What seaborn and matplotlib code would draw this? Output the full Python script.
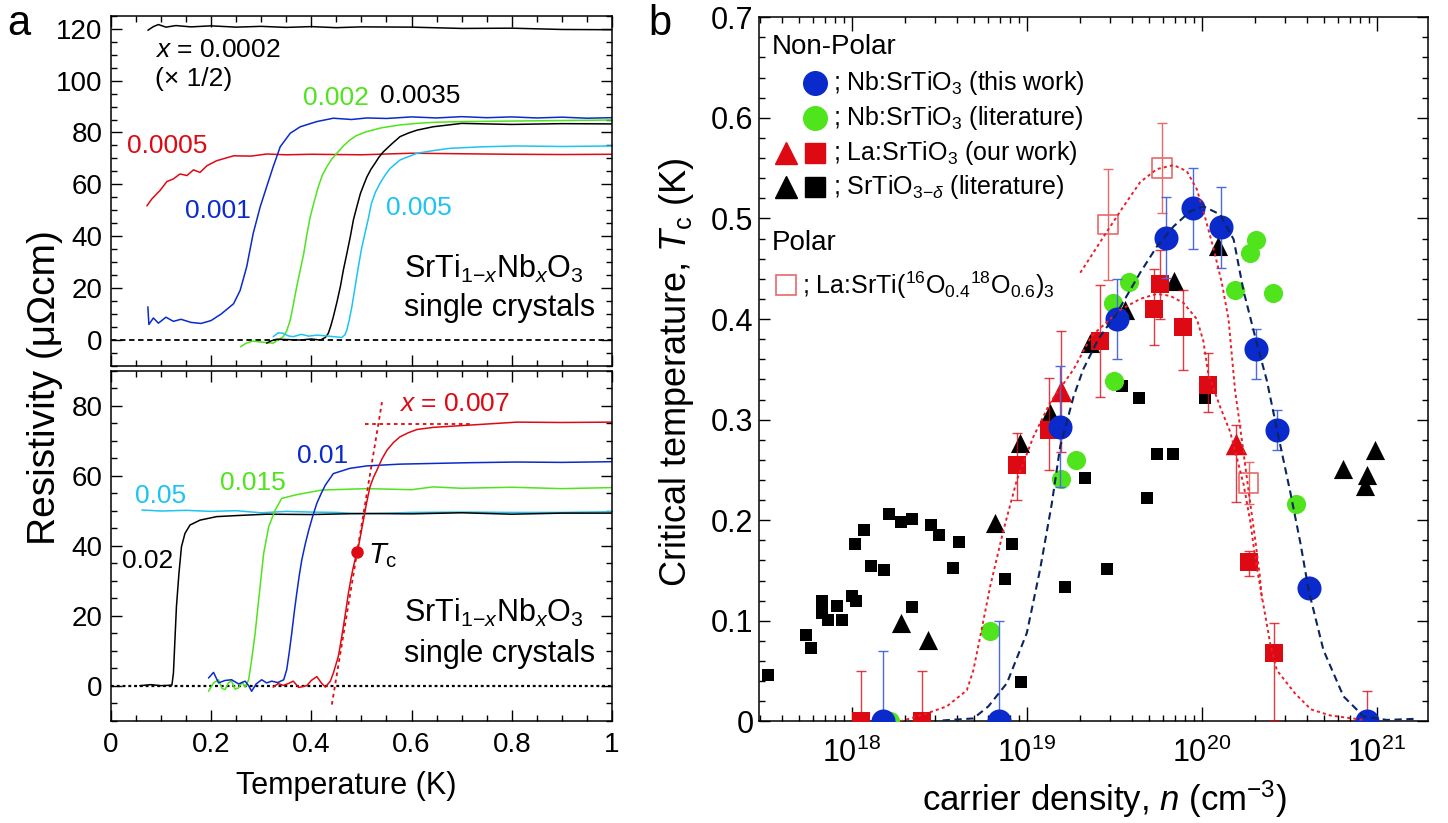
import numpy as np
import matplotlib
matplotlib.use("Agg")
import matplotlib.pyplot as plt
import seaborn as sns
from matplotlib.ticker import MultipleLocator, FuncFormatter, LogLocator, NullFormatter

# ---------------- panel a : resistivity curves ----------------
T_0002 = [0.074, 0.085, 0.095, 0.11, 0.13, 0.16, 0.2, 0.25, 0.3, 0.35, 0.4, 0.45, 0.5, 0.6, 0.7, 0.8, 0.9, 1.0]
R_0002 = [119.4, 120.8, 121.6, 120.6, 121.2, 120.7, 121.1, 120.6, 120.9, 120.5, 120.8, 120.4, 120.7, 120.6, 120.1, 120.2, 119.7, 119.6]

T_0005 = [0.072, 0.082, 0.098, 0.112, 0.125, 0.138, 0.152, 0.165, 0.178, 0.192, 0.211, 0.245, 0.28, 0.311, 0.35, 0.4, 0.5, 0.6, 0.7, 0.8, 0.9, 1.0]
R_0005 = [51.7, 54.4, 57.6, 61.1, 62.1, 64.0, 63.4, 65.6, 64.6, 67.2, 69.1, 71.0, 70.9, 71.7, 71.4, 71.6, 71.4, 72.0, 71.8, 71.6, 71.5, 71.6]

T_001 = [0.074, 0.076, 0.085, 0.095, 0.11, 0.125, 0.14, 0.16, 0.18, 0.2, 0.22, 0.245, 0.258, 0.271, 0.284, 0.298,
         0.311, 0.324, 0.338, 0.358, 0.378, 0.411, 0.444, 0.48, 0.511, 0.55, 0.6, 0.65, 0.7, 0.75, 0.8, 0.85, 0.9, 0.95, 1.0]
R_001 = [12.8, 6.0, 8.5, 6.5, 8.8, 7.2, 8.0, 6.8, 6.4, 7.5, 10.0, 14.0, 19.1, 28.1, 41.0, 51.3,
         59.1, 66.8, 74.5, 79.7, 82.2, 84.2, 85.5, 85.0, 85.6, 85.4, 86.0, 85.6, 86.1, 85.7, 86.0, 85.6, 85.9, 85.5, 85.7]

T_002 = [0.259, 0.27, 0.284, 0.3, 0.324, 0.335, 0.344, 0.351, 0.358, 0.364, 0.371, 0.378, 0.385, 0.391, 0.398, 0.406,
         0.414, 0.422, 0.431, 0.441, 0.451, 0.464, 0.477, 0.49, 0.51, 0.54, 0.577, 0.61, 0.643, 0.7, 0.8, 0.9, 1.0]
R_002 = [-2.6, -1.2, -0.4, -0.8, -1.2, 0.2, 1.3, 3.5, 7.7, 13.5, 20.6, 27.0, 33.4, 40.5, 47.6, 53.5,
         59.1, 63.5, 66.8, 69.8, 72.0, 74.8, 77.1, 78.8, 80.3, 81.8, 82.9, 83.5, 83.9, 84.2, 84.4, 84.6, 84.8]

T_0035 = [0.311, 0.32, 0.331, 0.35, 0.378, 0.4, 0.418, 0.428, 0.434, 0.439, 0.444, 0.451, 0.458, 0.464, 0.471, 0.478, 0.484,
          0.491, 0.498, 0.505, 0.511, 0.519, 0.527, 0.535, 0.544, 0.56, 0.577, 0.594, 0.611, 0.643, 0.7, 0.8, 0.9, 1.0]
R_0035 = [-1.2, -0.3, 0.3, 0.2, 0.0, 0.4, 0.0, 1.0, 2.6, 5.5, 9.0, 14.5, 20.6, 27.0, 33.4, 40.0, 46.3,
          51.5, 56.5, 60.0, 62.9, 65.8, 68.1, 70.5, 72.6, 75.5, 78.4, 79.8, 80.9, 82.2, 83.5, 83.1, 83.4, 83.3]

T_005 = [0.324, 0.334, 0.344, 0.354, 0.364, 0.38, 0.395, 0.411, 0.43, 0.444, 0.461, 0.467, 0.471, 0.476, 0.481, 0.487, 0.494,
         0.5, 0.507, 0.514, 0.52, 0.528, 0.537, 0.547, 0.557, 0.577, 0.611, 0.643, 0.677, 0.744, 0.81, 0.9, 1.0]
R_005 = [1.3, 2.8, 2.6, 1.6, 1.3, 2.2, 1.5, 1.9, 1.6, 1.3, 1.0, 2.0, 3.9, 8.0, 12.9, 20.0, 28.3,
         35.0, 41.1, 47.0, 52.7, 57.0, 60.4, 63.5, 66.1, 69.4, 72.0, 73.0, 73.9, 74.5, 74.8, 74.6, 74.8]

T_02 = [0.058, 0.08, 0.1, 0.115, 0.122, 0.125, 0.128, 0.131, 0.136, 0.141, 0.148, 0.158, 0.178, 0.211, 0.25, 0.311,
        0.4, 0.5, 0.6, 0.7, 0.8, 0.9, 1.0]
R_02 = [0.0, 0.3, 0.0, 0.1, 0.2, 3.6, 13.1, 22.6, 32.1, 39.7, 43.5, 45.9, 47.3, 48.3, 48.6, 49.0,
        48.9, 49.2, 49.1, 49.4, 49.0, 49.3, 49.3]

T_05 = [0.062, 0.1, 0.15, 0.2, 0.25, 0.3, 0.35, 0.4, 0.45, 0.5, 0.55, 0.6, 0.7, 0.8, 0.9, 1.0]
R_05 = [50.2, 49.9, 50.1, 49.8, 50.0, 49.4, 49.8, 49.6, 49.5, 49.1, 49.3, 49.5, 49.6, 49.5, 49.5, 49.7]

T_015 = [0.195, 0.205, 0.215, 0.222, 0.228, 0.235, 0.241, 0.248, 0.255, 0.262, 0.268, 0.275, 0.281, 0.288, 0.295,
         0.305, 0.315, 0.328, 0.341, 0.36, 0.375, 0.421, 0.511, 0.6, 0.643, 0.7, 0.8, 0.9, 1.0]
R_015 = [-1.6, 0.8, 1.7, -0.8, -1.1, 0.9, 1.3, -1.0, -0.6, 1.0, -0.4, 1.7, 7.4, 15.0, 24.5,
         37.8, 45.4, 50.2, 53.5, 54.2, 54.7, 55.9, 56.3, 56.0, 56.8, 56.4, 56.7, 56.3, 56.6]

T_01 = [0.195, 0.205, 0.215, 0.228, 0.241, 0.255, 0.268, 0.275, 0.281, 0.29, 0.301, 0.311, 0.321, 0.333, 0.345, 0.351,
        0.356, 0.361, 0.366, 0.371, 0.376, 0.381, 0.388, 0.395, 0.403, 0.411, 0.42, 0.428, 0.444, 0.477, 0.511, 0.577,
        0.643, 0.71, 0.81, 0.9, 1.0]
R_01 = [2.2, 3.8, 0.8, 1.5, 1.7, 0.5, 1.3, 0.0, -1.6, 0.5, 1.7, 0.8, 1.3, 0.9, 1.7, 4.6,
        9.5, 15.0, 21.0, 26.4, 31.5, 35.9, 40.5, 44.5, 48.5, 52.1, 55.0, 57.3, 60.6, 62.1, 62.8, 63.3,
        63.5, 63.7, 63.9, 63.8, 64.0]

T_007 = [0.324, 0.334, 0.344, 0.354, 0.364, 0.375, 0.391, 0.4, 0.411, 0.42, 0.428, 0.438, 0.444, 0.449, 0.454, 0.459,
         0.464, 0.469, 0.474, 0.479, 0.484, 0.489, 0.494, 0.499, 0.504, 0.51, 0.517, 0.524, 0.531, 0.541, 0.551, 0.564,
         0.577, 0.594, 0.611, 0.643, 0.71, 0.81, 0.9, 1.0]
R_007 = [-0.4, 0.6, 0.1, 0.6, 1.3, -0.5, 0.0, 1.5, 2.6, 0.8, -0.4, 1.3, 3.6, 6.0, 8.4, 12.5,
         16.9, 21.5, 26.4, 30.5, 34.0, 37.0, 39.7, 43.5, 47.3, 52.0, 56.8, 59.5, 61.6, 64.8, 67.3, 69.5,
         71.1, 72.3, 73.2, 73.8, 74.4, 75.3, 75.2, 75.3]

tc_point = (0.491, 38.1)
tc_slope_T = [0.441, 0.541]
tc_slope_R = [-5.4, 81.0]
tc_flat_T = [0.507, 0.72]
tc_flat_R = [74.9, 74.9]

# ---------------- panel b : Tc vs carrier density ----------------
nb_this_n = [1.5e18, 6.9e18, 1.55e19, 3.27e19, 6.2e19, 8.9e19, 1.28e20, 2.04e20, 2.68e20, 4.08e20, 8.77e20]
nb_this_tc = [0.0, 0.0, 0.293, 0.400, 0.481, 0.510, 0.491, 0.370, 0.290, 0.133, 0.0]
nb_this_lo = [0.0, 0.0, 0.06, 0.04, 0.04, 0.04, 0.04, 0.03, 0.02, 0.0, 0.0]
nb_this_hi = [0.07, 0.10, 0.06, 0.04, 0.04, 0.04, 0.04, 0.02, 0.02, 0.0, 0.0]

nb_lit_n = [1.66e18, 6.17e18, 1.56e19, 1.9e19, 3.13e19, 3.12e19, 3.85e19, 1.55e20, 1.89e20, 2.04e20, 2.56e20, 3.45e20]
nb_lit_tc = [0.0, 0.090, 0.241, 0.260, 0.338, 0.416, 0.437, 0.429, 0.466, 0.479, 0.426, 0.216]

la_sq_n = [1.13e18, 2.51e18, 8.84e18, 1.33e19, 2.62e19, 5.3e19, 5.8e19, 7.85e19, 1.09e20, 1.85e20, 2.57e20]
la_sq_tc = [0.0, 0.0, 0.255, 0.290, 0.378, 0.410, 0.435, 0.392, 0.334, 0.158, 0.068]
la_sq_lo = [0.0, 0.0, 0.035, 0.04, 0.056, 0.036, 0.035, 0.043, 0.026, 0.013, 0.068]
la_sq_hi = [0.05, 0.05, 0.032, 0.051, 0.056, 0.04, 0.034, 0.037, 0.032, 0.011, 0.03]

la_tri_n = [1.56e19, 1.57e20, 8.77e20]
la_tri_tc = [0.328, 0.276, 0.0]
la_tri_lo = [0.06, 0.058, 0.0]
la_tri_hi = [0.06, 0.019, 0.03]

o18_n = [2.92e19, 5.9e19, 1.85e20]
o18_tc = [0.494, 0.550, 0.237]
o18_err = [0.055, 0.045, 0.021]

sto_sq_n = [3.33e17, 5.48e17, 5.85e17, 6.75e17, 6.75e17, 7.3e17, 8.2e17, 8.84e17, 1.0e18, 1.06e18, 1.04e18, 1.18e18,
            1.28e18, 1.53e18, 1.63e18, 1.91e18, 2.22e18, 2.22e18, 2.83e18, 3.15e18, 3.81e18, 4.07e18, 7.52e18,
            8.2e18, 9.27e18, 1.66e19, 2.15e19, 2.87e19, 3.49e19, 4.4e19, 4.89e19, 5.53e19, 6.8e19, 1.04e20]
sto_sq_tc = [0.046, 0.086, 0.073, 0.120, 0.108, 0.101, 0.115, 0.101, 0.125, 0.120, 0.176, 0.190,
             0.155, 0.151, 0.206, 0.198, 0.201, 0.114, 0.195, 0.185, 0.153, 0.178, 0.142,
             0.176, 0.039, 0.134, 0.242, 0.152, 0.333, 0.321, 0.222, 0.266, 0.266, 0.321]

sto_tri_n = [1.91e18, 2.71e18, 6.59e18, 9.16e18, 1.36e19, 2.3e19, 3.65e19, 6.89e19, 1.23e20, 6.44e20, 9.77e20, 8.77e20, 8.58e20]
sto_tri_tc = [0.098, 0.081, 0.197, 0.277, 0.307, 0.376, 0.409, 0.438, 0.473, 0.251, 0.270, 0.245, 0.234]

fit_nb_n = [3.3e18, 4.95e18, 6.03e18, 7.69e18, 1.0e19, 1.19e19, 1.39e19, 1.55e19, 1.85e19, 2.1e19, 2.56e19, 3.27e19,
            4.44e19, 5.53e19, 6.89e19, 8.57e19, 1.02e20, 1.27e20, 1.52e20, 1.73e20, 2.06e20, 2.35e20, 2.68e20,
            3.2e20, 3.66e20, 4.08e20, 4.95e20, 6.44e20, 8.4e20, 1.14e21, 1.62e21]
fit_nb_tc = [0.001, 0.003, 0.015, 0.038, 0.088, 0.151, 0.217, 0.273, 0.323, 0.35, 0.38, 0.406,
             0.446, 0.472, 0.492, 0.507, 0.512, 0.504, 0.479, 0.428, 0.376, 0.339, 0.291,
             0.228, 0.177, 0.13, 0.071, 0.025, 0.005, 0.0015, 0.0025]

fit_la_n = [1.89e18, 2.68e18, 3.49e18, 4.54e18, 4.95e18, 5.41e18, 6.17e18, 7.35e18, 8.77e18, 1.09e19, 1.36e19,
            1.85e19, 2.34e19, 3.41e19, 4.44e19, 5.53e19, 6.6e19, 7.85e19, 9.36e19, 1.02e20, 1.09e20, 1.27e20,
            1.45e20, 1.73e20, 1.89e20, 2.02e20, 2.2e20, 2.46e20, 2.68e20, 3.4e20, 4.2e20, 5.4e20, 8.4e20]
fit_la_tc = [0.0, 0.008, 0.015, 0.031, 0.051, 0.084, 0.134, 0.19, 0.24, 0.283, 0.317,
             0.35, 0.383, 0.409, 0.420, 0.425, 0.423, 0.416, 0.400, 0.378, 0.345, 0.313,
             0.288, 0.236, 0.199, 0.162, 0.125, 0.077, 0.051, 0.028, 0.012, 0.006, 0.0015]

fit_o18_n = [2.02e19, 2.4e19, 2.87e19, 3.57e19, 4.44e19, 5.53e19, 6.89e19, 8.2e19, 9.36e19, 1.04e20, 1.17e20,
             1.3e20, 1.42e20, 1.55e20, 1.66e20, 1.77e20, 1.89e20, 2.02e20, 2.15e20, 2.2e20]
fit_o18_tc = [0.446, 0.466, 0.487, 0.512, 0.536, 0.549, 0.553, 0.547, 0.529, 0.502, 0.469,
              0.436, 0.40, 0.328, 0.291, 0.254, 0.217, 0.180, 0.143, 0.121]

# ---------------- style ----------------
sns.set_theme(style="ticks")
plt.rcParams['font.family'] = ['Liberation Sans', 'DejaVu Sans']
plt.rcParams['mathtext.fontset'] = 'custom'
plt.rcParams['mathtext.rm'] = 'Liberation Sans'
plt.rcParams['mathtext.it'] = 'Liberation Sans:italic'
plt.rcParams['mathtext.bf'] = 'Liberation Sans:bold'
plt.rcParams['axes.linewidth'] = 1.1
for key in ['text.color', 'axes.labelcolor', 'xtick.color', 'ytick.color', 'axes.edgecolor']:
    plt.rcParams[key] = 'black'

BLUE = '#0a2acc'
GREEN = '#4fe41c'
RED = '#dd0a14'
CYAN = '#1cc4f2'
NAVY = '#0b2560'
PALE_RED = '#e86a6a'
PALE_BLUE = '#4a6ae0'

fig = plt.figure(figsize=(14.48, 8.23), dpi=100)
ax_t = fig.add_axes([0.0765, 0.5553, 0.3462, 0.4256])
ax_bm = fig.add_axes([0.0765, 0.1243, 0.3462, 0.4253])
ax_b = fig.add_axes([0.5242, 0.1234, 0.462, 0.8557])


def curve(ax, x, y, color, lw=1.1, **kw):
    sns.lineplot(x=x, y=y, ax=ax, color=color, lw=lw, sort=False, estimator=None, **kw)


def style_ax(ax, size):
    ax.tick_params(which='both', direction='in', top=True, right=True, width=1.0, labelsize=size,
                   color='black', labelcolor='black')
    ax.tick_params(which='major', length=8)
    ax.tick_params(which='minor', length=4.5)
    for s in ax.spines.values():
        s.set_linewidth(1.1)
        s.set_color('black')


# ---- panel a top ----
curve(ax_t, T_0002, R_0002, 'black')
curve(ax_t, T_0005, R_0005, RED)
curve(ax_t, T_001, R_001, BLUE)
curve(ax_t, T_002, R_002, GREEN)
curve(ax_t, T_0035, R_0035, 'black')
curve(ax_t, T_005, R_005, CYAN)
ax_t.axhline(0, color='black', lw=1.3, ls=(0, (3, 2)), zorder=1)
ax_t.set_xlim(0, 1)
ax_t.set_ylim(-10, 125)
ax_t.xaxis.set_major_locator(MultipleLocator(0.2))
ax_t.xaxis.set_minor_locator(MultipleLocator(0.05))
ax_t.yaxis.set_major_locator(MultipleLocator(20))
ax_t.yaxis.set_minor_locator(MultipleLocator(5))
style_ax(ax_t, 20)
ax_t.tick_params(axis='x', labelbottom=False)
ax_t.tick_params(axis='y', pad=6)
ax_t.set_xlabel('')
ax_t.set_ylabel('')

fs_lab = 19
ax_t.text(0.088, 109.1, '$x$ = 0.0002', fontsize=fs_lab, color='black', va='baseline')
ax_t.text(0.088, 97.8, '(× 1/2)', fontsize=fs_lab, color='black', va='baseline')
ax_t.text(0.384, 90.6, '0.002', fontsize=fs_lab, color=GREEN, va='baseline')
ax_t.text(0.537, 91.5, '0.0035', fontsize=fs_lab, color='black', va='baseline')
ax_t.text(0.032, 72.0, '0.0005', fontsize=fs_lab, color=RED, va='baseline')
ax_t.text(0.148, 46.9, '0.001', fontsize=fs_lab, color=BLUE, va='baseline')
ax_t.text(0.55, 48.2, '0.005', fontsize=fs_lab, color=CYAN, va='baseline')
ax_t.text(0.585, 23.9, r'SrTi$_{1\mathrm{-}x}$Nb$_{x}$O$_3$', fontsize=22, va='baseline')
ax_t.text(0.585, 9.3, 'single crystals', fontsize=22, va='baseline')

# ---- panel a bottom ----
curve(ax_bm, T_05, R_05, CYAN)
curve(ax_bm, T_02, R_02, 'black')
curve(ax_bm, T_015, R_015, GREEN)
curve(ax_bm, T_01, R_01, BLUE)
curve(ax_bm, T_007, R_007, RED)
curve(ax_bm, tc_slope_T, tc_slope_R, RED, lw=1.3, linestyle=(0, (2, 2)))
curve(ax_bm, tc_flat_T, tc_flat_R, RED, lw=1.3, linestyle=(0, (2, 2)))
ax_bm.plot([tc_point[0]], [tc_point[1]], 'o', color=RED, ms=8, zorder=5)
ax_bm.axhline(0, color='black', lw=1.6, ls=(0, (1.3, 1.3)), zorder=1)
ax_bm.set_xlim(0, 1)
ax_bm.set_ylim(-10, 90)
ax_bm.xaxis.set_major_locator(MultipleLocator(0.2))
ax_bm.xaxis.set_minor_locator(MultipleLocator(0.05))
ax_bm.yaxis.set_major_locator(MultipleLocator(20))
ax_bm.yaxis.set_minor_locator(MultipleLocator(5))
ax_bm.xaxis.set_major_formatter(FuncFormatter(lambda v, _: f'{v:g}'))
style_ax(ax_bm, 20)
ax_bm.tick_params(axis='x', pad=8)
ax_bm.tick_params(axis='y', pad=6)
ax_bm.set_xlabel('')
ax_bm.set_ylabel('')

ax_bm.text(0.574, 78.5, '$x$ = 0.007', fontsize=fs_lab, color=RED, va='baseline')
ax_bm.text(0.371, 63.7, '0.01', fontsize=fs_lab, color=BLUE, va='baseline')
ax_bm.text(0.218, 55.9, '0.015', fontsize=fs_lab, color=GREEN, va='baseline')
ax_bm.text(0.048, 52.1, '0.05', fontsize=fs_lab, color=CYAN, va='baseline')
ax_bm.text(0.022, 33.5, '0.02', fontsize=fs_lab, color='black', va='baseline')
ax_bm.text(0.514, 35.1, r'$T_\mathrm{c}$', fontsize=21, va='baseline')
ax_bm.text(0.585, 18.3, r'SrTi$_{1\mathrm{-}x}$Nb$_{x}$O$_3$', fontsize=22, va='baseline')
ax_bm.text(0.585, 6.9, 'single crystals', fontsize=22, va='baseline')

# ---- panel b ----
ax_b.set_xscale('log')
sns.scatterplot(x=sto_sq_n, y=sto_sq_tc, marker='s', s=85, color='black', linewidth=0, ax=ax_b, zorder=2)
sns.scatterplot(x=sto_tri_n, y=sto_tri_tc, marker='^', s=190, color='black', linewidth=0, ax=ax_b, zorder=2.1)
sns.scatterplot(x=nb_lit_n, y=nb_lit_tc, marker='o', s=190, color=GREEN, linewidth=0, ax=ax_b, zorder=3)

ax_b.errorbar(la_sq_n, la_sq_tc, yerr=[la_sq_lo, la_sq_hi], fmt='none', ecolor=RED, elinewidth=1.0,
              capsize=3.5, capthick=1.0, alpha=0.8, zorder=3.5)
ax_b.errorbar(la_tri_n, la_tri_tc, yerr=[la_tri_lo, la_tri_hi], fmt='none', ecolor=RED, elinewidth=1.0,
              capsize=3.5, capthick=1.0, alpha=0.8, zorder=3.5)
ax_b.errorbar(o18_n, o18_tc, yerr=o18_err, fmt='none', ecolor=PALE_RED, elinewidth=1.0,
              capsize=3.5, capthick=1.0, zorder=3.5)
sns.scatterplot(x=la_sq_n, y=la_sq_tc, marker='s', s=180, color=RED, linewidth=0, ax=ax_b, zorder=4)
sns.scatterplot(x=la_tri_n, y=la_tri_tc, marker='^', s=240, color=RED, linewidth=0, ax=ax_b, zorder=4.1)
sns.scatterplot(x=o18_n, y=o18_tc, marker='s', s=200, facecolor='none', edgecolor=PALE_RED, linewidth=1.2,
                ax=ax_b, zorder=4.2)

ax_b.errorbar(nb_this_n, nb_this_tc, yerr=[nb_this_lo, nb_this_hi], fmt='none', ecolor=PALE_BLUE,
              elinewidth=1.0, capsize=3.5, capthick=1.0, zorder=4.5)
sns.scatterplot(x=nb_this_n, y=nb_this_tc, marker='o', s=300, color=BLUE, linewidth=0, ax=ax_b, zorder=5)

curve(ax_b, fit_la_n, fit_la_tc, '#e8202a', lw=1.4, linestyle=(0, (1.6, 1.6)), zorder=6)
curve(ax_b, fit_o18_n, fit_o18_tc, '#e8202a', lw=1.4, linestyle=(0, (1.6, 1.6)), zorder=6)
curve(ax_b, fit_nb_n, fit_nb_tc, NAVY, lw=1.5, linestyle=(0, (3.5, 2.2)), zorder=6)

ax_b.set_xlim(2.95e17, 1.96e21)
ax_b.set_ylim(0, 0.7)
ax_b.yaxis.set_major_locator(MultipleLocator(0.1))
ax_b.yaxis.set_minor_locator(MultipleLocator(0.02))
ax_b.yaxis.set_major_formatter(FuncFormatter(lambda v, _: '0' if abs(v) < 1e-9 else f'{v:.1f}'))
ax_b.xaxis.set_major_locator(LogLocator(base=10, numticks=100))
ax_b.xaxis.set_minor_locator(LogLocator(base=10, subs=np.arange(2, 10), numticks=100))
ax_b.xaxis.set_minor_formatter(NullFormatter())
style_ax(ax_b, 22)
ax_b.tick_params(axis='x', which='major', length=10, pad=12)
ax_b.tick_params(axis='y', pad=4)
ax_b.set_xlabel('')
ax_b.set_ylabel('')

# legend of panel b (hand placed, as in the figure)
tr = ax_b.transAxes
ax_b.text(0.019, 0.958, 'Non-Polar', fontsize=20, transform=tr, va='center')
ax_b.plot([0.0837], [0.906], 'o', ms=17, color=BLUE, transform=tr, clip_on=False)
ax_b.plot([0.0837], [0.857], 'o', ms=17, color=GREEN, transform=tr, clip_on=False)
ax_b.plot([0.040], [0.807], '^', ms=16, color=RED, transform=tr, clip_on=False)
ax_b.plot([0.0837], [0.807], 's', ms=15, color=RED, transform=tr, clip_on=False)
ax_b.plot([0.040], [0.759], '^', ms=16, color='black', transform=tr, clip_on=False)
ax_b.plot([0.0837], [0.759], 's', ms=15, color='black', transform=tr, clip_on=False)
fs_leg = 18
ax_b.text(0.1106, 0.906, r'; Nb:SrTiO$_3$ (this work)', fontsize=fs_leg, transform=tr, va='center')
ax_b.text(0.1106, 0.857, r'; Nb:SrTiO$_3$ (literature)', fontsize=fs_leg, transform=tr, va='center')
ax_b.text(0.1106, 0.807, r'; La:SrTiO$_3$ (our work)', fontsize=fs_leg, transform=tr, va='center')
ax_b.text(0.1106, 0.759, r'; SrTiO$_{3\mathrm{-}\delta}$ (literature)', fontsize=fs_leg, transform=tr, va='center')
ax_b.text(0.019, 0.679, 'Polar', fontsize=20, transform=tr, va='center')
ax_b.plot([0.041], [0.620], 's', ms=15, mfc='none', mec=PALE_RED, mew=1.2, transform=tr, clip_on=False)
ax_b.text(0.064, 0.620, r'; La:SrTi($^{16}$O$_{0.4}$$^{18}$O$_{0.6}$)$_3$', fontsize=fs_leg,
          transform=tr, va='center')

# axis titles and panel letters
fig.text(45 / 1448, 1 - 388 / 823, 'Resistivity (μΩcm)', rotation=90, ha='center', va='center', fontsize=28)
fig.text(346 / 1448, 1 - 786 / 823, 'Temperature (K)', ha='center', va='center', fontsize=22)
fig.text(677 / 1448, 1 - 372 / 823, r'Critical temperature, $T_\mathrm{c}$ (K)', rotation=90,
         ha='center', va='center', fontsize=26)
fig.text(1104 / 1448, 1 - 799 / 823, r'carrier density, $n$ (cm$^{-3}$)', ha='center', va='center', fontsize=25)
fig.text(7 / 1448, 1 - 35 / 823, 'a', fontsize=30, va='baseline')
fig.text(648 / 1448, 1 - 35 / 823, 'b', fontsize=30, va='baseline')

fig.savefig('out.png', dpi=100)
